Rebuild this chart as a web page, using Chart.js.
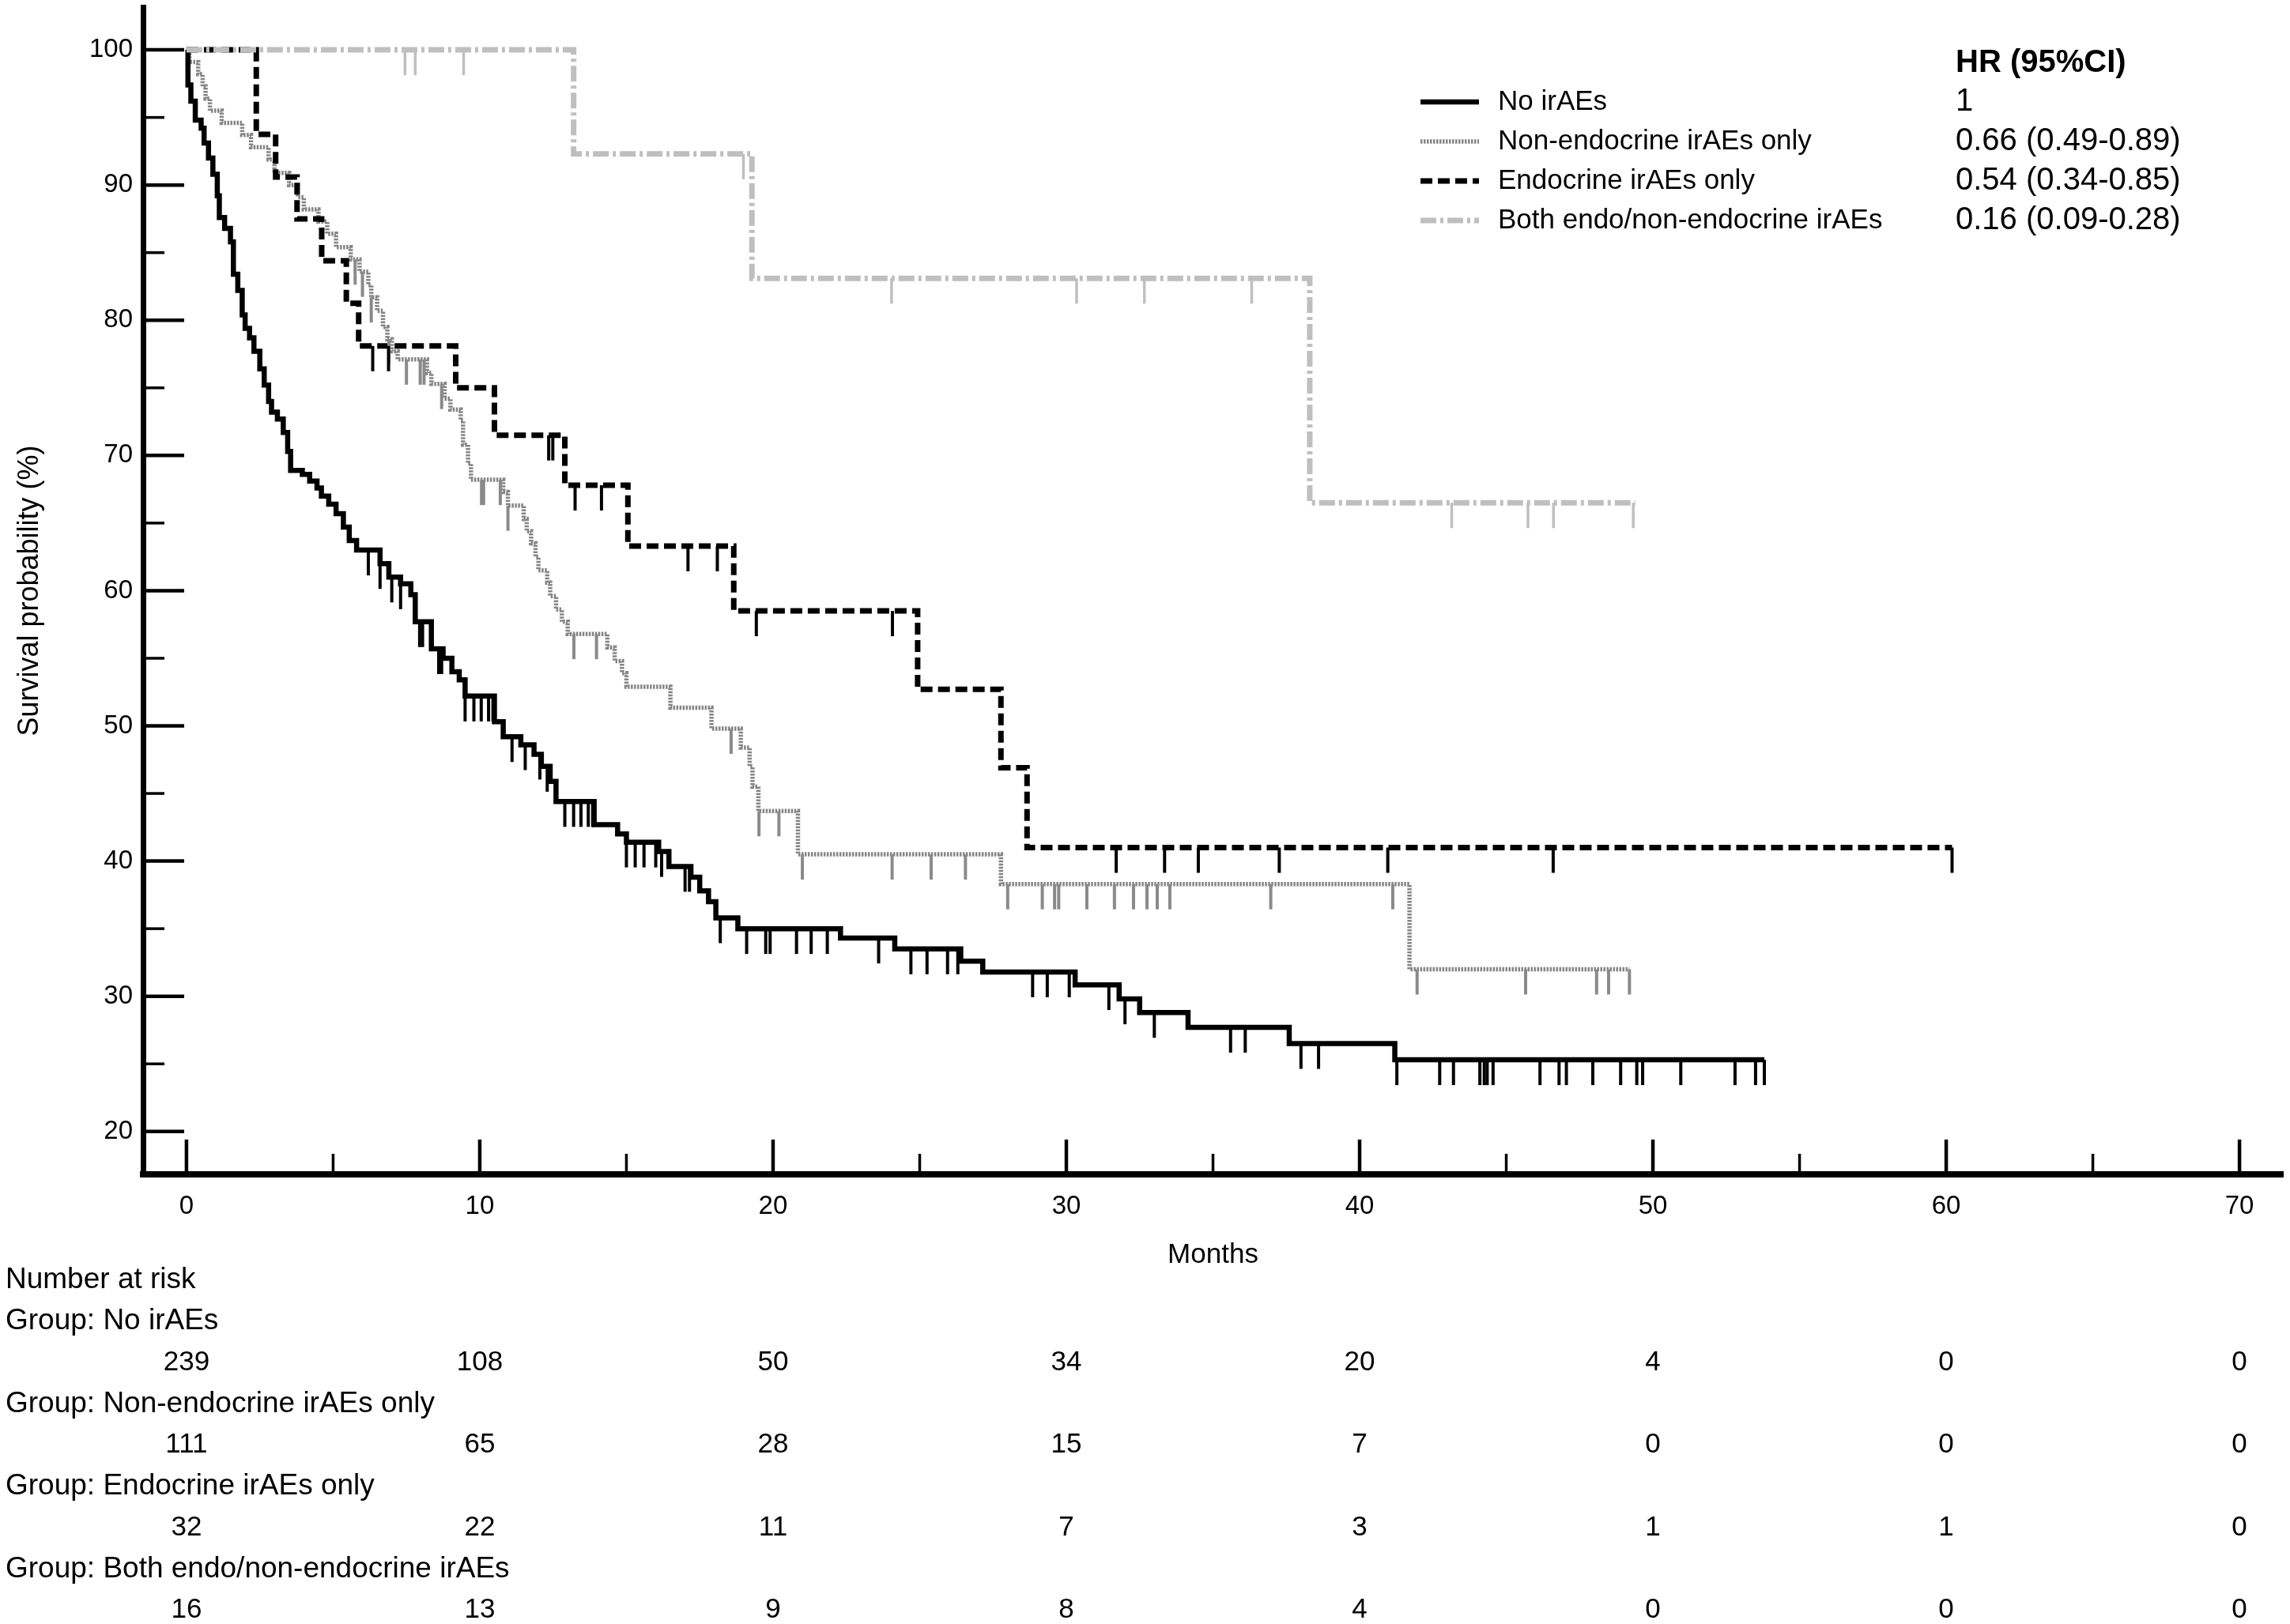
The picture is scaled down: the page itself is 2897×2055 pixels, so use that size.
<!DOCTYPE html>
<html>
<head>
<meta charset="utf-8">
<script src="https://cdn.jsdelivr.net/npm/chart.js@4.4.1/dist/chart.umd.min.js"></script>
<style>
  html, body { margin: 0; padding: 0; background: #fff; }
  #wrap { width: 2897px; height: 2055px; position: relative; }
</style>
</head>
<body>
<div id="wrap"><canvas id="km"></canvas></div>
<script>
// Kaplan-Meier steps (months, survival %)
const noTimes = [0, 0.05, 0.15, 0.3, 0.5, 0.6, 0.75, 0.9, 1.05, 1.12, 1.3, 1.5, 1.6, 1.75, 1.9, 2.0, 2.15, 2.3, 2.5, 2.65, 2.8, 2.9, 3.1, 3.3, 3.45, 3.55, 3.95, 4.2, 4.45, 4.6, 4.85, 5.1, 5.35, 5.55, 5.8, 6.6, 6.9, 7.3, 7.65, 7.8, 8.35, 8.75, 9.05, 9.3, 9.5, 10.5, 10.8, 11.4, 11.85, 12.1, 12.4, 12.6, 13.9, 14.7, 15.0, 16.1, 16.45, 17.2, 17.5, 17.8, 18.05, 18.8, 22.3, 24.15, 26.4, 27.15, 30.3, 31.8, 32.5, 34.15, 37.6, 41.2, 53.8];
const noSurv = [100, 97.4, 96.2, 94.8, 94.2, 93.1, 92.0, 90.8, 89.2, 87.6, 86.8, 85.8, 83.4, 82.2, 80.4, 79.4, 78.7, 77.7, 76.4, 75.2, 74.0, 73.2, 72.7, 71.7, 70.3, 68.9, 68.6, 68.1, 67.6, 67.0, 66.4, 65.7, 64.7, 63.7, 63.0, 62.0, 61.0, 60.5, 59.7, 57.7, 55.7, 55.0, 54.0, 53.4, 52.2, 50.3, 49.2, 48.6, 47.9, 47.0, 45.9, 44.4, 42.7, 42.0, 41.4, 40.7, 39.6, 38.8, 37.8, 37.0, 35.8, 35.0, 34.3, 33.5, 32.6, 31.8, 30.85, 29.8, 28.8, 27.7, 26.5, 25.3, 25.3];
const noCensor = [6.2, 6.6, 7.0, 7.3, 7.95, 8.05, 8.6, 8.7, 9.5, 9.8, 10.05, 10.3, 10.45, 11.1, 11.55, 12.05, 12.3, 12.9, 13.2, 13.45, 13.7, 13.85, 15.0, 15.3, 15.6, 16.0, 16.2, 17.0, 17.15, 18.2, 19.1, 19.75, 19.9, 20.8, 21.3, 21.85, 23.6, 24.7, 25.25, 25.95, 26.3, 28.85, 29.35, 30.1, 31.45, 32.0, 33.0, 35.6, 36.1, 38.0, 38.6, 41.27, 42.73, 43.2, 44.1, 44.25, 44.35, 44.55, 46.15, 46.8, 47.05, 47.95, 48.9, 49.45, 49.65, 50.95, 52.8, 53.5, 53.8];

const nonTimes = [0, 0.1, 0.4, 0.55, 0.65, 0.8, 1.2, 1.9, 2.2, 2.8, 3.0, 3.5, 3.8, 4.0, 4.5, 4.8, 5.1, 5.6, 5.9, 6.2, 6.3, 6.5, 6.7, 6.85, 7.0, 7.2, 8.2, 8.35, 8.8, 9.0, 9.35, 9.43, 9.6, 9.7, 10.8, 10.96, 11.5, 11.6, 11.75, 11.9, 12.0, 12.3, 12.4, 12.6, 12.8, 13.0, 14.35, 14.6, 14.85, 15.0, 16.5, 17.9, 18.9, 19.2, 19.3, 19.5, 20.85, 27.77, 41.7, 49.2];
const nonSurv = [100, 99.1, 98.2, 97.3, 96.4, 95.5, 94.6, 93.7, 92.8, 91.9, 90.9, 90.0, 89.1, 88.2, 87.3, 86.4, 85.4, 84.5, 83.6, 82.6, 81.7, 80.7, 79.5, 78.6, 77.7, 77.1, 76.1, 75.3, 74.2, 73.4, 72.6, 70.8, 69.4, 68.2, 67.3, 66.3, 65.3, 64.4, 63.5, 62.5, 61.5, 60.6, 59.6, 58.6, 57.7, 56.8, 55.8, 54.8, 53.9, 52.9, 51.35, 49.8, 48.4, 47.0, 45.5, 43.7, 40.5, 38.3, 32.0, 32.0];
const nonCensor = [5.75, 6.0, 6.3, 6.9, 7.5, 7.97, 8.1, 8.7, 10.06, 10.13, 10.7, 10.96, 13.21, 13.98, 18.57, 19.52, 20.2, 21.0, 24.06, 25.39, 26.56, 28.0, 29.18, 29.6, 29.74, 30.7, 31.64, 32.29, 32.75, 33.1, 33.53, 36.97, 41.13, 41.96, 45.66, 48.08, 48.49, 49.2];

const endoTimes = [0, 2.38, 3.04, 3.77, 4.61, 5.45, 5.87, 9.18, 10.5, 12.9, 15.05, 18.66, 24.93, 27.77, 28.66, 60.2];
const endoSurv = [100, 93.75, 90.6, 87.5, 84.4, 81.25, 78.1, 75.0, 71.5, 67.8, 63.3, 58.5, 52.7, 46.9, 41.0, 41.0];
const endoCensor = [6.35, 6.89, 12.35, 12.49, 13.25, 14.15, 17.1, 18.1, 19.43, 24.07, 31.7, 33.35, 34.5, 37.26, 40.96, 46.6, 60.2];

const bothTimes = [0, 13.2, 19.28, 38.3, 49.4];
const bothSurv = [100, 92.3, 83.1, 66.5, 66.5];
const bothCensor = [7.45, 7.8, 9.45, 18.99, 24.04, 30.35, 32.66, 36.32, 43.14, 45.74, 46.61, 49.33];

const groupNames = ['No irAEs', 'Non-endocrine irAEs only', 'Endocrine irAEs only', 'Both endo/non-endocrine irAEs'];
const hrLabels = ['1', '0.66 (0.49-0.89)', '0.54 (0.34-0.85)', '0.16 (0.09-0.28)'];

const riskTimes = [0, 10, 20, 30, 40, 50, 60, 70];
const noRisk = [239, 108, 50, 34, 20, 4, 0, 0];
const nonRisk = [111, 65, 28, 15, 7, 0, 0, 0];
const endoRisk = [32, 22, 11, 7, 3, 1, 1, 0];
const bothRisk = [16, 13, 9, 8, 4, 0, 0, 0];

const FONT = '"Liberation Sans", Arial, sans-serif';

const groups = [
  { times: noTimes, surv: noSurv, censor: noCensor, risk: noRisk,
    color: '#000000', width: 6.5, dash: [], tickColor: '#000000', tickW: 4, order: 2 },
  { times: nonTimes, surv: nonSurv, censor: nonCensor, risk: nonRisk,
    color: '#858585', width: 5.5, dash: [2.5, 1.5], tickColor: '#8a8a8a', tickW: 4, order: 3 },
  { times: endoTimes, surv: endoSurv, censor: endoCensor, risk: endoRisk,
    color: '#000000', width: 7, dash: [15, 7], tickColor: '#000000', tickW: 4, order: 1 },
  { times: bothTimes, surv: bothSurv, censor: bothCensor, risk: bothRisk,
    color: '#bfbfbf', width: 7, dash: [20, 5, 4, 5], tickColor: '#bfbfbf', tickW: 3.5, order: 0 }
];

function survAt(g, t) {
  let v = g.surv[0];
  for (let i = 0; i < g.times.length; i++) {
    if (g.times[i] <= t) v = g.surv[i];
  }
  return v;
}

// inward axis ticks (major every 10, minor every 5)
const axisTicks = {
  id: 'axisTicks',
  beforeDatasetsDraw(chart) {
    const { ctx, chartArea: a, scales: { x, y } } = chart;
    ctx.save();
    ctx.strokeStyle = '#000';
    x.ticks.forEach((t) => {
      const px = x.getPixelForValue(t.value);
      const major = t.value % 10 === 0;
      ctx.lineWidth = major ? 4.5 : 3.5;
      ctx.beginPath();
      ctx.moveTo(px, a.bottom);
      ctx.lineTo(px, a.bottom - (major ? 44 : 26));
      ctx.stroke();
    });
    y.ticks.forEach((t) => {
      const py = y.getPixelForValue(t.value);
      const major = t.value % 10 === 0;
      ctx.lineWidth = major ? 4.5 : 3.5;
      ctx.beginPath();
      ctx.moveTo(a.left, py);
      ctx.lineTo(a.left + (major ? 52 : 27), py);
      ctx.stroke();
    });
    ctx.restore();
  }
};

// censor marks hanging below the curves
const censorMarks = {
  id: 'censorMarks',
  afterDatasetsDraw(chart) {
    const { ctx, scales: { x, y } } = chart;
    ctx.save();
    ctx.setLineDash([]);
    groups.forEach((g) => {
      ctx.strokeStyle = g.tickColor;
      ctx.lineWidth = g.tickW;
      g.censor.forEach((t) => {
        const px = x.getPixelForValue(t);
        const py = y.getPixelForValue(survAt(g, t));
        ctx.beginPath();
        ctx.moveTo(px, py);
        ctx.lineTo(px, py + 32);
        ctx.stroke();
      });
    });
    ctx.restore();
  }
};

// legend with HR column, and number-at-risk table
const extras = {
  id: 'extras',
  afterDraw(chart) {
    const { ctx, scales: { x } } = chart;
    ctx.save();
    ctx.fillStyle = '#000';
    ctx.textBaseline = 'middle';

    ctx.font = 'bold 40px ' + FONT;
    ctx.textAlign = 'left';
    ctx.fillText('HR (95%CI)', 2474, 80);

    groups.forEach((g, i) => {
      const yy = 129 + i * 50;
      ctx.strokeStyle = g.color;
      ctx.lineWidth = g.width;
      ctx.setLineDash(g.dash);
      ctx.beginPath();
      ctx.moveTo(1797, yy);
      ctx.lineTo(1871, yy);
      ctx.stroke();
      ctx.setLineDash([]);
      ctx.font = '35px ' + FONT;
      ctx.fillText(groupNames[i], 1895, yy);
      ctx.font = '40px ' + FONT;
      ctx.fillText(hrLabels[i], 2474, yy);
    });

    ctx.font = '37px ' + FONT;
    ctx.fillText('Number at risk', 7, 1620);
    groups.forEach((g, i) => {
      const yLabel = 1672 + i * 104.5;
      ctx.textAlign = 'left';
      ctx.font = '37px ' + FONT;
      ctx.fillText('Group: ' + groupNames[i], 7, yLabel);
      ctx.textAlign = 'center';
      ctx.font = '35px ' + FONT;
      riskTimes.forEach((t, k) => {
        ctx.fillText(String(g.risk[k]), x.getPixelForValue(t), yLabel + 52);
      });
    });
    ctx.restore();
  }
};

Chart.defaults.font.family = FONT;
Chart.defaults.color = '#000';

new Chart(document.getElementById('km'), {
  type: 'line',
  data: {
    datasets: groups.map((g, i) => ({
      label: groupNames[i],
      data: g.times.map((t, k) => ({ x: t, y: g.surv[k] })),
      borderColor: g.color,
      borderWidth: g.width,
      borderDash: g.dash,
      borderCapStyle: 'butt',
      stepped: true,
      pointRadius: 0,
      fill: false,
      order: g.order
    }))
  },
  options: {
    responsive: true,
    maintainAspectRatio: false,
    devicePixelRatio: 1,
    animation: false,
    layout: { padding: { left: 0, right: 9, top: 9, bottom: 429 } },
    plugins: { legend: { display: false }, tooltip: { enabled: false } },
    scales: {
      x: {
        type: 'linear',
        min: -1.48,
        max: 71.48,
        grid: { display: false, drawTicks: false },
        border: { display: true, width: 8, color: '#000' },
        ticks: {
          stepSize: 5,
          includeBounds: false,
          padding: 21,
          maxRotation: 0,
          autoSkip: false,
          font: { size: 33 },
          callback: (v) => (v % 10 === 0 ? String(v) : '')
        },
        title: { display: true, text: 'Months', font: { size: 35 }, padding: { top: 0, bottom: 17 } },
        afterFit: (s) => { s.height = 140; s.paddingLeft = 0; s.paddingRight = 0; }
      },
      y: {
        min: 16.83,
        max: 103.16,
        grid: { display: false, drawTicks: false },
        border: { display: true, width: 7, color: '#000' },
        ticks: {
          stepSize: 5,
          includeBounds: false,
          padding: 13,
          autoSkip: false,
          font: { size: 33 },
          callback: (v) => (v % 10 === 0 ? String(v) : '')
        },
        title: { display: true, text: 'Survival probability (%)', font: { size: 36 }, padding: { top: 16, bottom: 0 } },
        afterFit: (s) => { s.width = 181; s.paddingTop = 0; s.paddingBottom = 0; }
      }
    }
  },
  plugins: [axisTicks, censorMarks, extras]
});
</script>
</body>
</html>
